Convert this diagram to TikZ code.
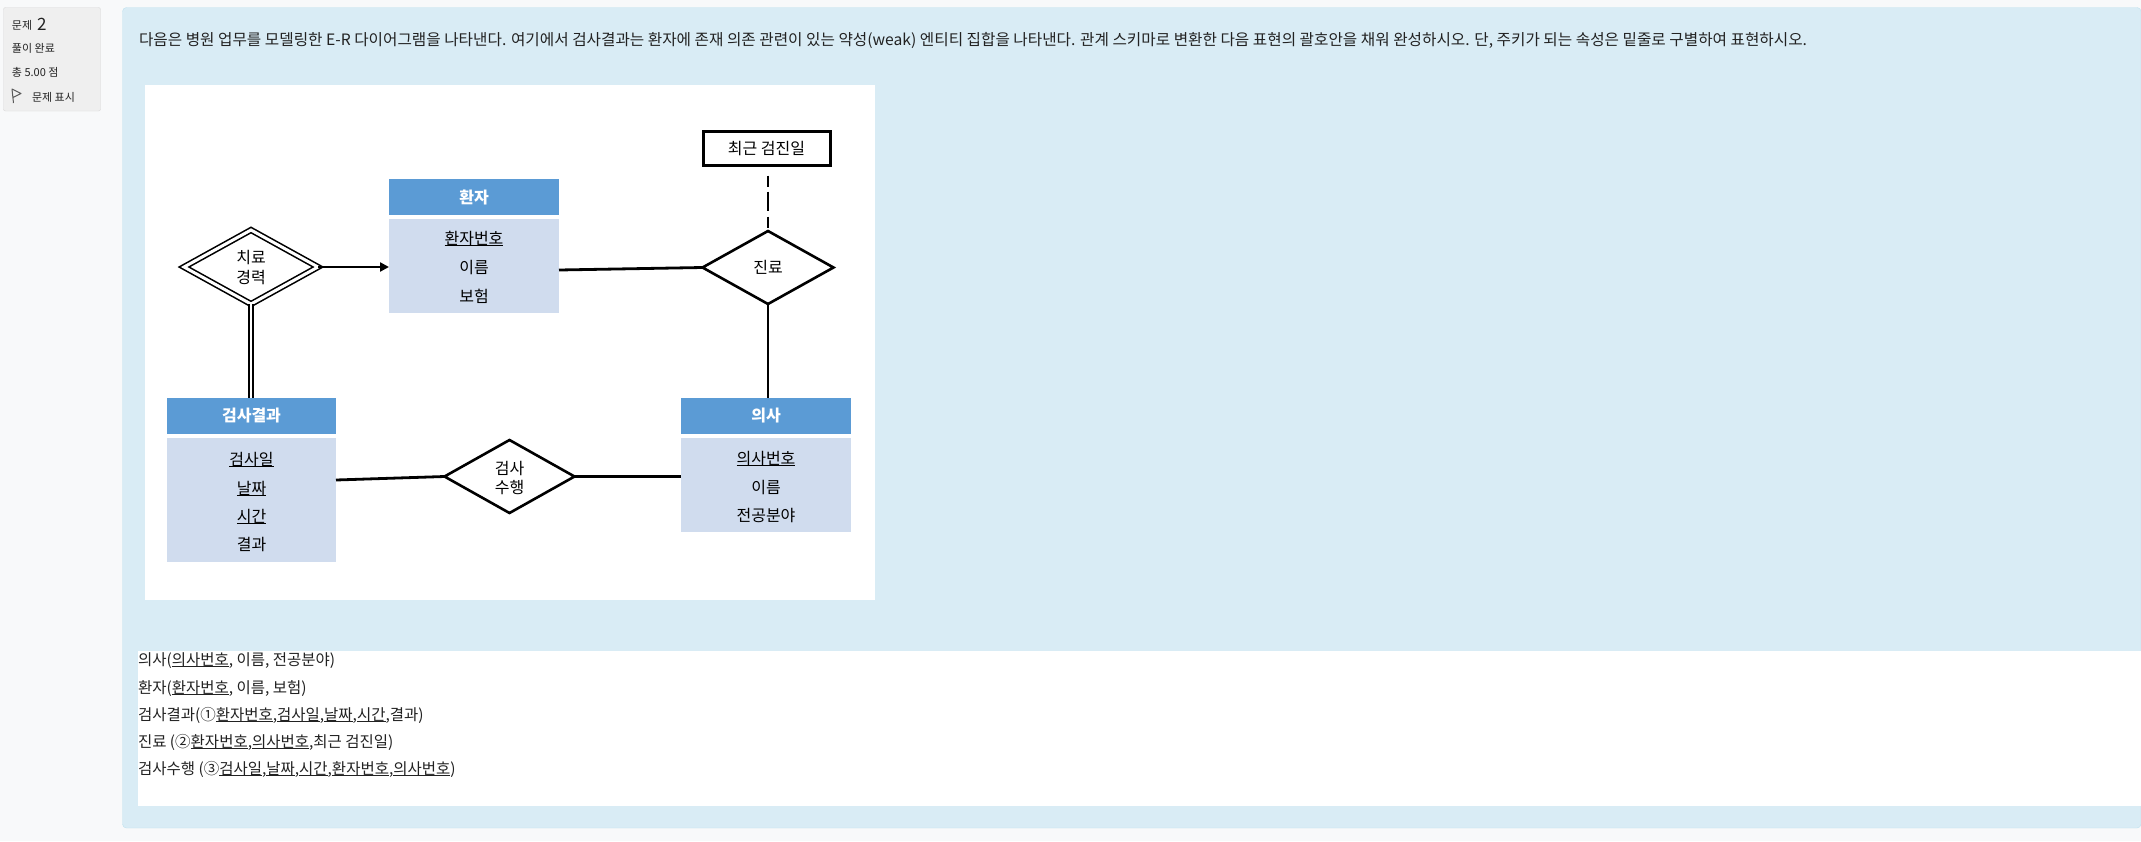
\documentclass[tikz,border=0pt]{standalone}
\usepackage{fontspec}
\setmainfont{Noto Sans CJK KR}
\usetikzlibrary{shapes.geometric,arrows.meta}
\definecolor{pagebg}{HTML}{F8F9FA}
\definecolor{panel}{HTML}{D9ECF5}
\definecolor{panelline}{HTML}{BEE1EF}
\definecolor{hdr}{HTML}{5B9BD5}
\definecolor{bodyc}{HTML}{D0DCEE}
\definecolor{infobg}{HTML}{EFEFEF}
\definecolor{infoline}{HTML}{D8D8D8}
\definecolor{txt}{HTML}{222222}
\newsavebox{\ulsave}
\newcommand\myul[1]{\sbox{\ulsave}{#1}\rlap{\rule[-0.14em]{\wd\ulsave}{0.065em}}\usebox{\ulsave}}
\begin{document}
\begin{tikzpicture}[x=1pt,y=-1pt,
  every node/.style={inner sep=0pt, outer sep=0pt},
  hdrbox/.style={rectangle, fill=hdr, text=white, font=\fontsize{16}{19}\selectfont\bfseries, minimum width=170pt, minimum height=36pt},
  bodybox/.style={rectangle, fill=bodyc, minimum width=170pt},
  attr/.style={anchor=base, font=\fontsize{16}{19}\selectfont, text=black},
  reldia/.style={diamond, draw, line width=2.6pt, fill=white, line join=miter},
  conn/.style={line width=2.8pt},
  qtext/.style={anchor=base west, font=\fontsize{14}{17}\selectfont, text=txt},
  anstext/.style={anchor=base west, font=\fontsize{15.5}{18}\selectfont, text=txt},
  infotext/.style={anchor=base west, font=\fontsize{11}{13}\selectfont, text=txt},
]
% backgrounds
\fill[pagebg] (0,0) rectangle (2141,841);
\useasboundingbox (0,0) rectangle (2141,841);
\filldraw[fill=infobg, draw=infoline, rounded corners=2pt] (3.5,7.5) rectangle (100.5,111);
\filldraw[fill=panel, draw=panelline, rounded corners=4pt] (122.5,7.5) rectangle (2141,828);
\fill[white] (145,85) rectangle (875,600);
\fill[white] (138,651) rectangle (2141,806);

% answers
\node[anstext] (a1) at (138,665) {의사(\myul{의사번호}, 이름, 전공분야)};
\node[anstext] (a2) at (138,693) {환자(\myul{환자번호}, 이름, 보험)};
\node[anstext] (a3) at (138,720) {검사결과(①\myul{환자번호},\myul{검사일},\myul{날짜},\myul{시간},결과)};
\node[anstext] (a4) at (138,747) {진료 (②\myul{환자번호},\myul{의사번호},최근 검진일)};
\node[anstext] (a5) at (138,774) {검사수행 (③\myul{검사일},\myul{날짜},\myul{시간},\myul{환자번호},\myul{의사번호})};

% info box
\node[infotext] (i1) at (12,29) {문제};
\node[anchor=base west, font=\fontsize{17}{19}\selectfont, text=txt] (i1n) at (37,30) {2};
\node[infotext] (i2) at (12,52) {풀이 완료};
\node[infotext] (i3) at (12,76) {총 5.00 점};
\draw[black!65, line width=1pt, line join=round] (13.5,103) -- (12,89) -- (21,93.5) -- (13,97.5);
\node[infotext] (i4) at (32,101) {문제 표시};

% question
\node[qtext] (q) at (139,45) {\resizebox{1668pt}{!}{다음은 병원 업무를 모델링한 E-R 다이어그램을 나타낸다. 여기에서 검사결과는 환자에 존재 의존 관련이 있는 약성(weak) 엔티티 집합을 나타낸다. 관계 스키마로 변환한 다음 표현의 괄호안을 채워 완성하시오. 단, 주키가 되는 속성은 밑줄로 구별하여 표현하시오.}};

% entities
\node[hdrbox] (hh) at (474,197) {환자};
\node[bodybox, minimum height=94pt] (hb) at (474,266) {};
\node[hdrbox, minimum width=169pt] (gh) at (251.5,416) {검사결과};
\node[bodybox, minimum width=169pt, minimum height=124pt] (gb) at (251.5,500) {};
\node[hdrbox] (dh) at (766,416) {의사};
\node[bodybox, minimum height=94pt] (db) at (766,485) {};

\node[attr] (h1) at (474,244) {\myul{환자번호}};
\node[attr] (h2) at (474,273) {이름};
\node[attr] (h3) at (474,302) {보험};
\node[attr] (g1) at (251.5,465) {\myul{검사일}};
\node[attr] (g2) at (251.5,494) {\myul{날짜}};
\node[attr] (g3) at (251.5,522) {\myul{시간}};
\node[attr] (g4) at (251.5,550) {결과};
\node[attr] (d1) at (766,464) {\myul{의사번호}};
\node[attr] (d2) at (766,493) {이름};
\node[attr] (d3) at (766,521) {전공분야};

% relationships
\node[reldia, minimum width=131pt, minimum height=73pt] (jr) at (768,267.5) {};
\node[attr] (jrt) at (768,273) {진료};
\node[reldia, minimum width=130pt, minimum height=73pt] (gs) at (509.5,476.5) {};
\node[attr] (gs1) at (509.5,474) {검사};
\node[attr] (gs2) at (509.5,493) {수행};
\node[diamond, draw, double, double distance=3pt, line width=1.6pt, minimum width=134pt, minimum height=74pt] (tk) at (251,267) {};
\node[attr] (tk1) at (251,263) {치료};
\node[attr] (tk2) at (251,283) {경력};

\node[draw, line width=3pt, minimum width=127pt, minimum height=34pt, fill=white, font=\fontsize{16}{19}\selectfont] (rc) at (766.5,148.5) {최근 검진일};

% connectors
\draw[conn, dash pattern=on 11pt off 5pt on 19pt off 6pt, shorten <=10pt] (jr.north |- rc.south) -- (jr.north);
\draw[conn] (jr.south) -- (jr.south |- dh.north);
\draw[conn] ([yshift=-4pt]hb.east) -- (jr.west);
\draw[conn, -{Triangle[length=9pt,width=9pt]}] (tk.east) -- (tk.east -| hb.west);
\draw[double, double distance=2.4pt, line width=1.8pt] (tk.south) -- (tk.south |- gh.north);
\draw[conn] ([yshift=20pt]gb.east) -- (gs.west);
\draw[conn] (gs.east) -- (gs.east -| db.west);
\end{tikzpicture}
\end{document}
